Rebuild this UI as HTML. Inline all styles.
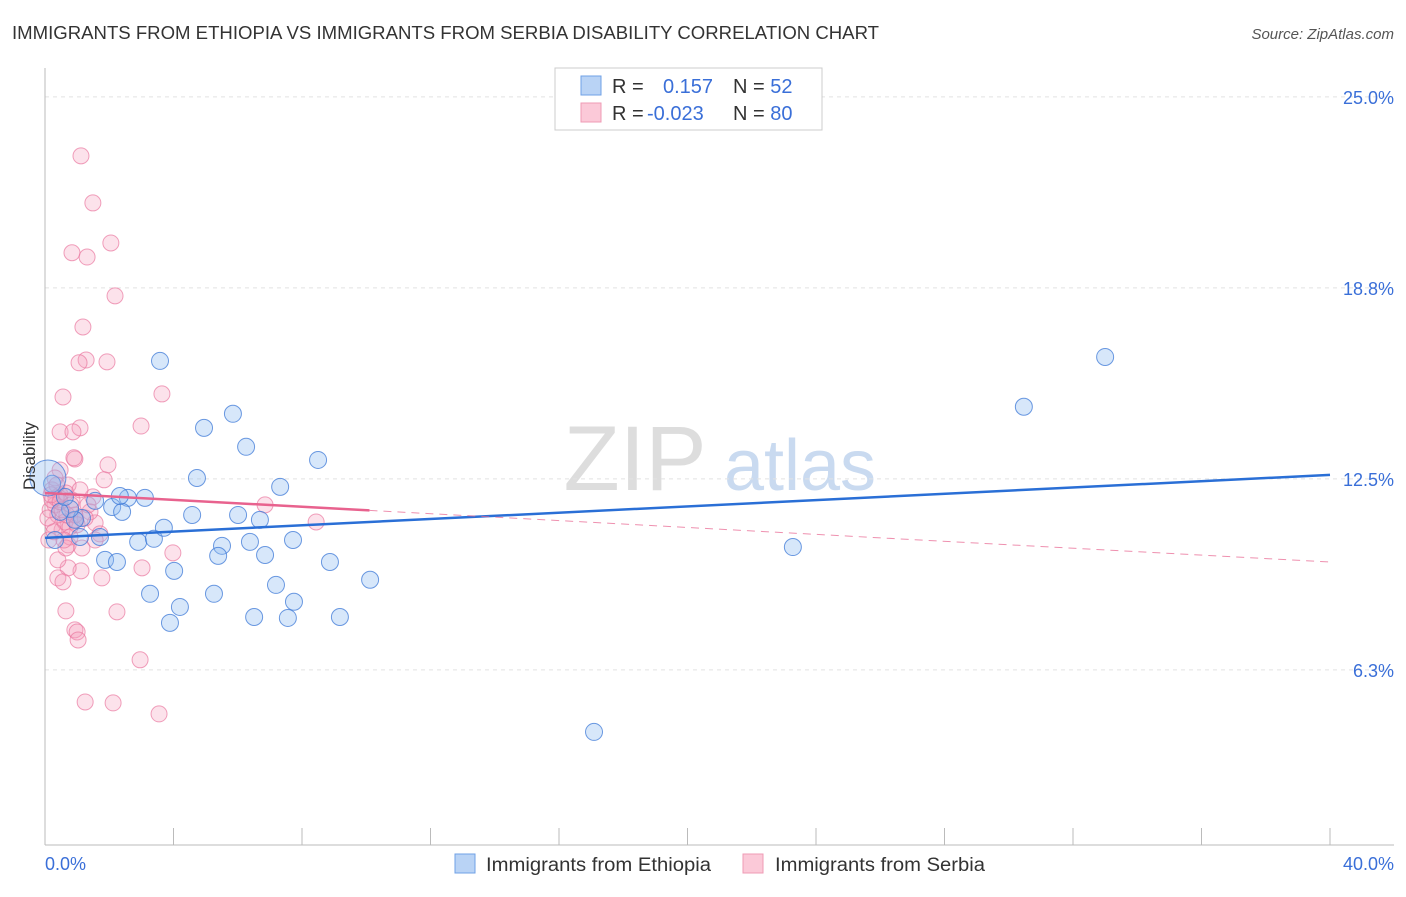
<!DOCTYPE html>
<html><head><meta charset="utf-8"><style>
body{margin:0;background:#fff;font-family:"Liberation Sans",sans-serif;}
svg text{font-family:"Liberation Sans",sans-serif;}
</style></head><body>
<svg id="chart" width="1406" height="892" viewBox="0 0 1406 892" xmlns="http://www.w3.org/2000/svg">
<text x="12" y="39" font-size="18" fill="#333" textLength="867" lengthAdjust="spacingAndGlyphs">IMMIGRANTS FROM ETHIOPIA VS IMMIGRANTS FROM SERBIA DISABILITY CORRELATION CHART</text>
<text x="1394" y="39" font-size="15" fill="#555" font-style="italic" text-anchor="end">Source: ZipAtlas.com</text>
<g>
<text x="635" y="490" font-size="92" fill="#ddd" font-family="Liberation Serif" text-anchor="middle">ZIP</text>
<text x="800" y="490" font-size="72" fill="#c9daf0" text-anchor="middle">atlas</text>
</g>
<g id="grid"></g>
<g id="axes"></g>
<g id="pts"></g>
<g id="trends"></g>
<text x="35" y="456" font-size="17" fill="#333" text-anchor="middle" transform="rotate(-90 35 456)">Disability</text>
<text x="45" y="870" font-size="18" fill="#3a6fd8">0.0%</text>
<text x="1394" y="870" font-size="18" fill="#3a6fd8" text-anchor="end">40.0%</text>
<g>
<rect x="555" y="68" width="267" height="62" fill="#fff" stroke="#ccc"/>
<rect x="581" y="76" width="20" height="19" fill="#b9d3f5" stroke="#6fa0e6"/>
<rect x="581" y="103" width="20" height="19" fill="#fbc9d8" stroke="#ef9bb5"/>
<text x="612" y="93" font-size="20" fill="#333">R = <tspan fill="#3a6fd8" x="663">0.157</tspan><tspan x="733" fill="#333">N = </tspan><tspan fill="#3a6fd8">52</tspan></text>
<text x="612" y="120" font-size="20" fill="#333">R = <tspan fill="#3a6fd8" x="647">-0.023</tspan><tspan x="733" fill="#333">N = </tspan><tspan fill="#3a6fd8">80</tspan></text>
</g>
<g>
<rect x="455" y="854" width="20" height="19" fill="#b9d3f5" stroke="#6fa0e6"/>
<text x="486" y="871" font-size="19" fill="#333" textLength="225" lengthAdjust="spacingAndGlyphs">Immigrants from Ethiopia</text>
<rect x="743" y="854" width="20" height="19" fill="#fbc9d8" stroke="#ef9bb5"/>
<text x="775" y="871" font-size="19" fill="#333" textLength="210" lengthAdjust="spacingAndGlyphs">Immigrants from Serbia</text>
</g>
</svg>
<script>
const yTicks=[25,18.75,12.5,6.25];
const yTickLabels=["25.0%","18.8%","12.5%","6.3%"];
const xTicks=[4,8,12,16,20,24,28,32,36,40];
const ethX=[3.58,4.95,5.85,6.26,4.73,8.5,7.32,33.0,30.47,23.28,17.09,10.12,9.18,8.87,7.75,7.56,6.51,7.19,6.38,6.85,5.51,5.39,5.26,4.2,3.89,4.02,3.27,2.9,3.39,3.7,4.58,6.01,6.69,7.72,3.11,2.58,2.09,2.4,1.56,1.71,1.09,1.15,1.87,2.24,2.33,0.93,0.78,0.47,0.62,0.22,0.09,0.31];
const ethY=[16.36,14.17,14.63,13.55,12.53,13.12,12.24,16.49,14.86,10.27,4.22,9.2,7.98,9.78,8.48,7.95,7.98,9.03,10.44,10.01,10.31,9.98,8.74,8.31,7.79,9.49,8.74,10.44,10.54,10.9,11.32,11.32,11.16,10.5,11.88,11.88,11.58,11.42,11.78,10.6,10.6,11.22,9.85,9.78,11.94,11.16,11.52,11.42,11.91,12.34,12.53,10.5];
const serX=[1.12,1.49,2.05,0.84,1.31,2.18,1.18,1.28,1.06,1.93,3.64,0.56,2.99,1.09,0.47,0.87,0.93,0.9,1.96,1.84,1.49,6.85,8.44,3.98,3.02,2.24,1.77,1.12,0.72,0.4,0.56,0.65,0.93,1.0,1.03,2.96,1.25,2.12,3.55,1.56,1.4,1.71,0.72,0.96,0.84,0.47,0.22,0.31,0.16,0.4,0.53,0.25,0.12,0.34,0.62,0.78,0.72,0.47,0.31,0.65,1.09,1.34,0.53,0.22,0.78,1.25,0.09,0.4,0.65,0.93,0.59,1.56,1.15,0.37,0.19,0.47,0.68,0.81,0.28,1.0];
const serY=[23.07,21.53,20.22,19.9,19.76,18.49,17.47,16.39,16.3,16.33,15.28,15.18,14.23,14.17,14.04,14.04,13.15,13.19,12.96,12.47,11.91,11.65,11.09,10.08,9.59,8.15,9.26,9.49,9.59,9.26,9.13,8.18,7.56,7.49,7.23,6.58,5.2,5.17,4.81,11.06,11.42,10.7,10.34,11.16,11.81,11.98,12.14,11.65,11.49,11.32,10.83,10.99,10.5,11.88,11.09,10.93,12.3,12.79,12.53,12.04,12.14,11.65,11.49,11.81,10.6,11.22,11.22,9.85,10.24,11.32,10.5,10.5,10.24,12.3,11.98,11.75,11.32,11.65,10.77,11.0];
const ethTrend=[10.57,12.63];
const serTrend=[12.04,9.78];
const serSolidEnd=10.1;
const X0=45,X1=1330,Y0=845,Y1=70,XMIN=0,XMAX=40,YMIN=0.52,YMAX=25.88;
const sx=v=>X0+(v-XMIN)/(XMAX-XMIN)*(X1-X0);
const sy=v=>Y0-(v-YMIN)/(YMAX-YMIN)*(Y0-Y1);
const NS="http://www.w3.org/2000/svg";
function mk(tag,attrs,parent){const e=document.createElementNS(NS,tag);for(const k in attrs)e.setAttribute(k,attrs[k]);document.getElementById(parent).appendChild(e);return e;}
yTicks.forEach((t,i)=>{
 const l=mk('line',{x1:X0,x2:1394,y1:sy(t),y2:sy(t),stroke:'#e2e2e2','stroke-dasharray':'4,4'},'grid');
 
 
 const tx=mk('text',{x:1394,y:sy(t)+7,'font-size':18,fill:'#3a6fd8','text-anchor':'end'},'grid');
 tx.textContent=yTickLabels[i];
 
 
});
const ax=mk('line',{x1:X0,x2:X0,y1:68,y2:Y0,stroke:'#bbb'},'axes');


const bx=mk('line',{x1:X0,x2:1394,y1:Y0,y2:Y0,stroke:'#bbb'},'axes');


xTicks.forEach(t=>{
 const l=mk('line',{x1:sx(t),x2:sx(t),y1:828,y2:Y0,stroke:'#bbb'},'axes');
 
 
});
serX.forEach((v,i)=>{
 const c=mk('circle',{cx:sx(v),cy:sy(serY[i]),r:8,fill:'rgba(246,160,188,0.3)',stroke:'rgba(234,120,160,0.7)','stroke-width':1},'pts');
 
 
});
ethX.forEach((v,i)=>{
 const c=mk('circle',{cx:sx(v),cy:sy(ethY[i]),r:(i===50?18:8.5),fill:'rgba(140,185,240,0.35)',stroke:'rgba(60,120,215,0.75)','stroke-width':1},'pts');
 
 
});
const bt=mk('line',{x1:sx(0),y1:sy(ethTrend[0]),x2:sx(40),y2:sy(ethTrend[1]),stroke:'#2a6fd6','stroke-width':2.5},'trends');


const f=v=>serTrend[0]+(serTrend[1]-serTrend[0])*v/40;
const pt=mk('line',{x1:sx(0),y1:sy(serTrend[0]),x2:sx(serSolidEnd),y2:sy(f(serSolidEnd)),stroke:'#e8628e','stroke-width':2.5},'trends');


const pd=mk('line',{x1:sx(serSolidEnd),y1:sy(f(serSolidEnd)),x2:sx(40),y2:sy(serTrend[1]),stroke:'#e8628e','stroke-width':1,'stroke-dasharray':'8,6','opacity':0.7},'trends');


</script>
</body></html>
